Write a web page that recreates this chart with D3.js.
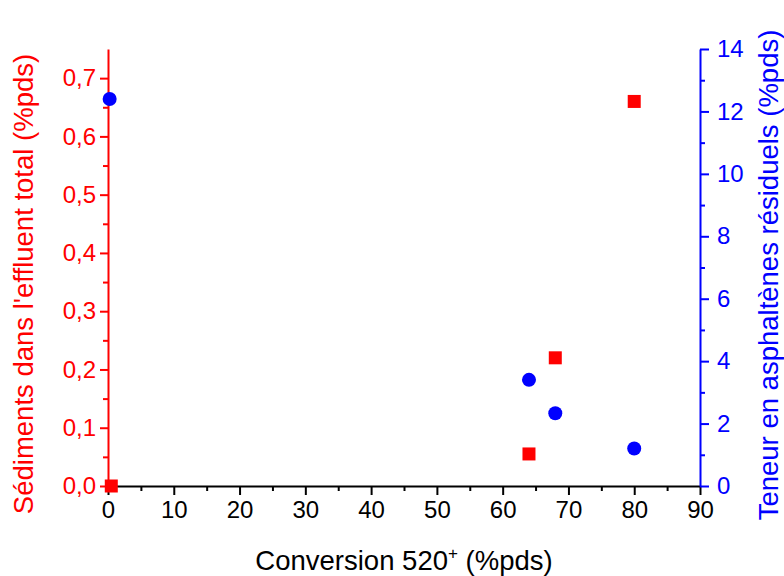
<!DOCTYPE html>
<html><head><meta charset="utf-8">
<script src="https://cdn.jsdelivr.net/npm/d3@7"></script>
<style>body{margin:0;background:#fff}svg{display:block}text{font-family:"Liberation Sans",Arial,sans-serif}</style>
</head><body><svg id="c" width="784" height="576"></svg>
<script>
const sedX = [0.5, 64, 68, 80];
const sedY = [0.0, 0.055, 0.22, 0.66];
const asphX = [0.25, 64, 68, 80];
const asphY = [12.4, 3.4, 2.33, 1.2];
const xTicks = [0,10,20,30,40,50,60,70,80,90];
const leftTicks = [0,0.1,0.2,0.3,0.4,0.5,0.6,0.7];
const rightTicks = [0,2,4,6,8,10,12,14];

const svg = d3.select("#c");
const L=108, R=700, T=49, B=486;
const x = d3.scaleLinear().domain([0,90]).range([L,R]);
const yL = d3.scaleLinear().domain([0,0.75]).range([B,T]);
const yR = d3.scaleLinear().domain([0,14]).range([B,T]);
const fs = 24;

function styleAxis(g, color){
  g.selectAll("path,line").attr("stroke",color).attr("stroke-width",2);
  g.selectAll("text").attr("fill",color).style("font-size",fs+"px").style("font-family","Liberation Sans, Arial, sans-serif");
}
// minor ticks
const xMinor = d3.range(5,90,10);
svg.append("g").attr("transform",`translate(0,${B})`).call(d3.axisBottom(x).tickValues(xMinor).tickSize(5).tickFormat("").tickSizeOuter(0))
  .call(g=>{g.select(".domain").remove(); g.selectAll("line").attr("stroke","#000").attr("stroke-width",2);});
svg.append("g").attr("transform",`translate(${L},0)`).call(d3.axisLeft(yL).tickValues(d3.range(0.05,0.75,0.1)).tickSize(5).tickFormat("").tickSizeOuter(0))
  .call(g=>{g.select(".domain").remove(); g.selectAll("line").attr("stroke","#f00").attr("stroke-width",2);});
svg.append("g").attr("transform",`translate(${R},0)`).call(d3.axisRight(yR).tickValues(d3.range(1,14,2)).tickSize(5).tickFormat("").tickSizeOuter(0))
  .call(g=>{g.select(".domain").remove(); g.selectAll("line").attr("stroke","#00f").attr("stroke-width",2);});

const fmtC = d => d3.format(".1f")(d).replace(".",",");
svg.append("g").attr("transform",`translate(0,${B})`)
  .call(d3.axisBottom(x).tickValues(xTicks).tickSize(9).tickSizeOuter(0).tickPadding(6))
  .call(g=>styleAxis(g,"#000"));
svg.append("g").attr("transform",`translate(${L},0)`)
  .call(d3.axisLeft(yL).tickValues(leftTicks).tickFormat(fmtC).tickSize(8).tickSizeOuter(0).tickPadding(4))
  .call(g=>styleAxis(g,"#f00"));
svg.append("g").attr("transform",`translate(${R},0)`)
  .call(d3.axisRight(yR).tickValues(rightTicks).tickSize(9).tickSizeOuter(0).tickPadding(8))
  .call(g=>styleAxis(g,"#00f"));

// data
const S=13;
svg.append("g").selectAll("rect").data(sedX.map((v,i)=>[v,sedY[i]])).join("rect")
  .attr("x",d=>x(d[0])-S/2).attr("y",d=>yL(d[1])-S/2).attr("width",S).attr("height",S).attr("fill","#f00");
svg.append("g").selectAll("circle").data(asphX.map((v,i)=>[v,asphY[i]])).join("circle")
  .attr("cx",d=>x(d[0])).attr("cy",d=>yR(d[1])).attr("r",7).attr("fill","#00f");

// titles
const tf = "27.5px";
const xt = svg.append("text").attr("x",404).attr("y",570).attr("text-anchor","middle").attr("fill","#000").style("font-size",tf);
xt.append("tspan").text("Conversion 520");
xt.append("tspan").attr("dy",-11).style("font-size","17px").text("+");
xt.append("tspan").attr("dy",11).text(" (%pds)");
svg.append("text").attr("transform","translate(33,284) rotate(-90)").attr("text-anchor","middle").attr("fill","#f00").style("font-size",tf).text("Sédiments dans l'effluent total (%pds)");
svg.append("text").attr("transform","translate(778,275) rotate(-90)").attr("text-anchor","middle").attr("fill","#00f").style("font-size",tf).text("Teneur en asphaltènes résiduels (%pds)");
</script></body></html>
